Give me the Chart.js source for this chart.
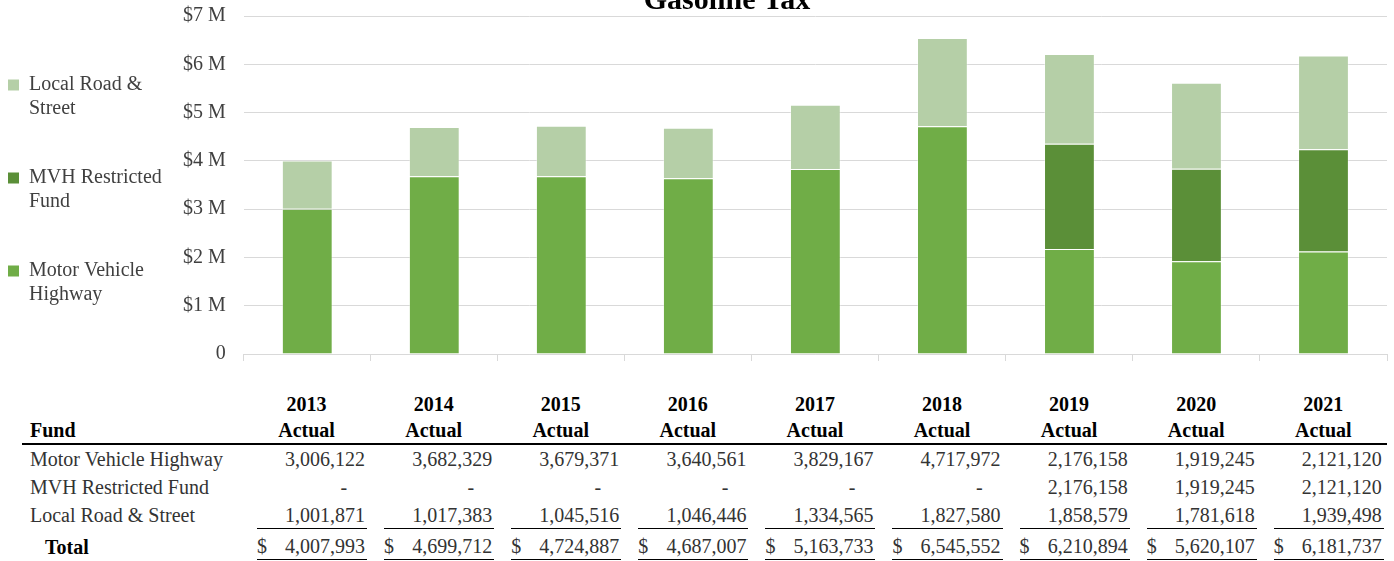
<!DOCTYPE html>
<html>
<head>
<meta charset="utf-8">
<script src="https://cdn.jsdelivr.net/npm/chart.js@4/dist/chart.umd.min.js"></script>
<style>
  html, body { margin: 0; padding: 0; background: #fff; }
  body { width: 1394px; height: 561px; position: relative; overflow: hidden; font-family: "Liberation Serif", serif; }
  #chartWrap { position: absolute; left: 0; top: 0; width: 1394px; height: 384px; }
  #tbl { position: absolute; left: 22px; top: 391px; border-collapse: separate; border-spacing: 0; table-layout: fixed; font-size: 20px; color: #333; }
  #tbl th { font-weight: bold; color: #000; padding: 0; line-height: 26px; border-bottom: 2px solid #000; vertical-align: bottom; text-align: center; }
  #tbl th.first { text-align: left; padding-left: 8px; }
  #tbl td { padding: 0 3px 0 14px; height: 28px; line-height: 28px; white-space: nowrap; }
  #tbl td.lbl { padding-left: 8px; }
  #tbl tr.r3 td { height: 27px; }
  #tbl tr.r3 .in { line-height: 26px; border-bottom: 1px solid #000; }
  #tbl tr.tot td { height: 31px; vertical-align: bottom; }
  #tbl tr.tot .in { line-height: 26px; border-bottom: 1px solid #000; }
  #tbl tr.tot td.lbl { padding-left: 23px; font-weight: bold; color: #000; line-height: 26px; }
  .in { display: flex; justify-content: space-between; padding-right: 2px; }
  .in .dash { padding-right: 18px; }
</style>
</head>
<body>
<div id="chartWrap"><canvas id="c" width="1394" height="384"></canvas></div>
<table id="tbl"></table>
<script>
const chartTitle = 'Gasoline Tax';
const categories = ['2013', '2014', '2015', '2016', '2017', '2018', '2019', '2020', '2021'];
const columnSubHeader = 'Actual';
const seriesNames = ['Motor Vehicle Highway', 'MVH Restricted Fund', 'Local Road & Street'];
const legendLines = [['Motor Vehicle', 'Highway', ''], ['MVH Restricted', 'Fund', ''], ['Local Road &', 'Street', '']];
const motorVehicleHighway = [3006122, 3682329, 3679371, 3640561, 3829167, 4717972, 2176158, 1919245, 2121120];
const mvhRestrictedFund = [0, 0, 0, 0, 0, 0, 2176158, 1919245, 2121120];
const localRoadStreet = [1001871, 1017383, 1045516, 1046446, 1334565, 1827580, 1858579, 1781618, 1939498];
const totals = [4007993, 4699712, 4724887, 4687007, 5163733, 6545552, 6210894, 5620107, 6181737];
const seriesColors = ['#70ad47', '#5b8f38', '#b5cfa7'];
const yMax = 7000000;
const yStep = 1000000;

const FONT = '"Liberation Serif", serif';

const titlePlugin = {
  id: 'cutTitle',
  afterDraw(chart) {
    const ctx = chart.ctx;
    ctx.save();
    ctx.font = 'bold 30px ' + FONT;
    ctx.fillStyle = '#000';
    ctx.textAlign = 'center';
    ctx.textBaseline = 'alphabetic';
    ctx.fillText(chartTitle, 727, 9);
    ctx.restore();
  }
};

const seriesData = [motorVehicleHighway, mvhRestrictedFund, localRoadStreet];

new Chart(document.getElementById('c'), {
  type: 'bar',
  data: {
    labels: categories,
    datasets: seriesNames.map((name, i) => ({
      label: name,
      data: seriesData[i],
      backgroundColor: seriesColors[i],
      borderColor: 'rgba(255,255,255,0.35)',
      borderWidth: 1,
      categoryPercentage: 1,
      barPercentage: 0.4
    }))
  },
  options: {
    responsive: false,
    animation: false,
    devicePixelRatio: 1,
    layout: { padding: { top: 16, left: -13, right: 7, bottom: 5 } },
    scales: {
      x: {
        stacked: true,
        ticks: { display: false },
        grid: { display: true, drawOnChartArea: false, drawTicks: true, tickLength: 7, color: '#d9d9d9', offset: true },
        border: { display: true, color: '#d9d9d9' }
      },
      y: {
        stacked: true,
        min: 0,
        max: yMax,
        ticks: {
          stepSize: yStep,
          padding: 18,
          color: '#404040',
          font: { family: FONT, size: 20 },
          callback: v => v === 0 ? '0' : '$' + (v / 1000000) + ' M'
        },
        grid: { color: '#d9d9d9', drawTicks: false },
        border: { display: false },
        afterFit(scale) { scale.width = 72; scale.paddingTop = 0; }
      }
    },
    plugins: {
      legend: {
        position: 'left',
        fullSize: false,
        align: 'end',
        reverse: true,
        labels: {
          boxWidth: 11,
          boxHeight: 11,
          padding: 21,
          color: '#404040',
          font: { family: FONT, size: 20, lineHeight: 1.2 },
          generateLabels(chart) {
            return Chart.defaults.plugins.legend.labels.generateLabels(chart).map(l => {
              l.text = legendLines[l.datasetIndex];
              l.strokeStyle = 'rgba(0,0,0,0)';
              l.lineWidth = 0;
              return l;
            });
          }
        }
      },
      tooltip: { enabled: false },
      title: { display: false }
    }
  },
  plugins: [titlePlugin]
});

// Table
const fmt = n => n.toLocaleString('en-US');
const tbl = document.getElementById('tbl');
let html = '<colgroup><col style="width:221px">' + categories.map(() => '<col style="width:127.1px">').join('') + '</colgroup>';
html += '<thead><tr><th class="first">Fund</th>' + categories.map(c => '<th>' + c + '<br>' + columnSubHeader + '</th>').join('') + '</tr></thead><tbody>';
const rowCls = ['r1', 'r2', 'r3'];
seriesNames.forEach((name, i) => {
  html += '<tr class="' + rowCls[i] + '"><td class="lbl">' + name.replace('&', '&amp;') + '</td>';
  seriesData[i].forEach(v => {
    html += '<td><div class="in"><span></span>' + (v === 0 ? '<span class="dash">-</span>' : '<span>' + fmt(v) + '</span>') + '</div></td>';
  });
  html += '</tr>';
});
html += '<tr class="tot"><td class="lbl">Total</td>';
totals.forEach(v => { html += '<td><div class="in"><span>$</span><span>' + fmt(v) + '</span></div></td>'; });
html += '</tr></tbody>';
tbl.innerHTML = html;
</script>
</body>
</html>
